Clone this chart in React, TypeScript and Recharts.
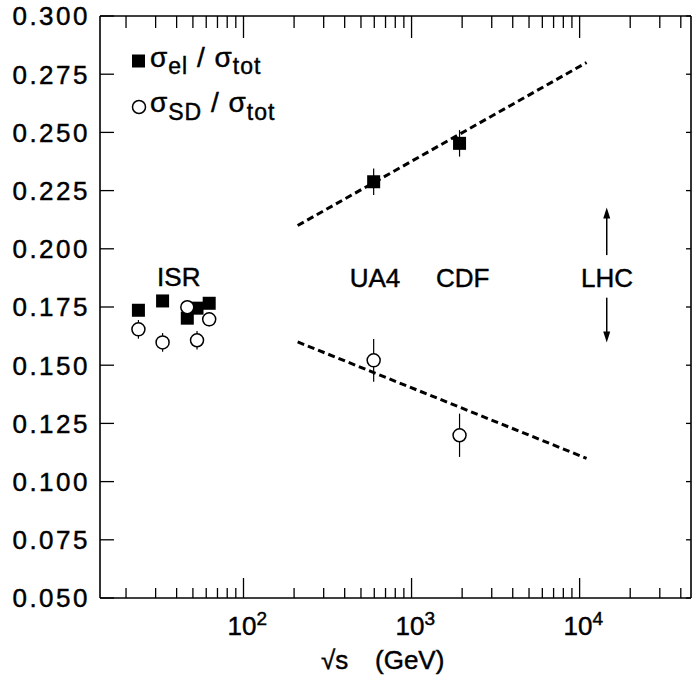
import React from 'react';
import {
  ScatterChart,
  Scatter,
  XAxis,
  YAxis,
  ErrorBar,
  ReferenceDot,
  ReferenceLine,
  Customized,
} from 'recharts';

const FONT = "'Liberation Sans', Arial, Helvetica, sans-serif";
const TEXT_STROKE = 0.45;

// ---- data ----
const isrEnergies = [23.7, 33.0, 46.3, 52.9, 62.5];
const isrElastic = [0.1736, 0.1776, 0.1702, 0.1745, 0.1766];
const isrElasticErr = [0.002, 0.002, 0.002, 0.002, 0.002];
const isrSD = [0.1654, 0.1598, 0.1749, 0.1607, 0.1697];
const isrSDErr = [0.004, 0.004, 0.003, 0.004, 0.003];

const colliderEnergies = [595, 1930];
const colliderElastic = [0.2288, 0.2453];
const colliderElasticErr = [0.0057, 0.0057];
const colliderSD = [0.1521, 0.1199];
const colliderSDErr = [0.0092, 0.0093];

const fitEnergies = [210, 11000];
const fitElastic = [0.21, 0.28];
const fitSD = [0.16, 0.11];

const xDomain = [14, 46000];
const yDomain = [0.05, 0.3];
const yTicks = [0.05, 0.075, 0.1, 0.125, 0.15, 0.175, 0.2, 0.225, 0.25, 0.275, 0.3];
const xMajorTicks = [100, 1000, 10000];
const xMajorExp = ['2', '3', '4'];
const xMinorTicks = [
  20, 30, 40, 50, 60, 70, 80, 90,
  200, 300, 400, 500, 600, 700, 800, 900,
  2000, 3000, 4000, 5000, 6000, 7000, 8000, 9000,
  20000, 30000, 40000,
];
const xAllTicks = [...xMinorTicks, ...xMajorTicks].sort((a, b) => a - b);

const annotations = [
  { label: 'ISR', x: 41.2, y: 0.188 },
  { label: 'UA4', x: 606, y: 0.1875 },
  { label: 'CDF', x: 2015, y: 0.1875 },
  { label: 'LHC', x: 14550, y: 0.1875 },
];
const lhcEnergy = 14500;
const lhcUpArrow = [0.1973, 0.2177];
const lhcDownArrow = [0.179, 0.1597];

// ---- derived tables ----
const elasticData = [
  ...isrEnergies.map((e, i) => ({ x: e, y: isrElastic[i], err: isrElasticErr[i] })),
  ...colliderEnergies.map((e, i) => ({ x: e, y: colliderElastic[i], err: colliderElasticErr[i] })),
];
const sdData = [
  ...isrEnergies.map((e, i) => ({ x: e, y: isrSD[i], err: isrSDErr[i] })),
  ...colliderEnergies.map((e, i) => ({ x: e, y: colliderSD[i], err: colliderSDErr[i] })),
];
const fitElasticData = fitEnergies.map((e, i) => ({ x: e, y: fitElastic[i] }));
const fitSDData = fitEnergies.map((e, i) => ({ x: e, y: fitSD[i] }));

// ---- shapes ----
const SquareShape = (p: any) => (
  <rect x={p.cx - 6.5} y={p.cy - 6.5} width={13} height={13} fill="#000" />
);
const CircleShape = (p: any) => (
  <circle cx={p.cx} cy={p.cy} r={6.5} fill="#fff" stroke="#000" strokeWidth={1.5} />
);
const NoShape = () => <g />;

const BottomTick = (p: any) => {
  const { x, y, payload } = p;
  const idx = xMajorTicks.indexOf(payload.value);
  const major = idx >= 0;
  return (
    <g>
      <line x1={x} x2={x} y1={y} y2={y - (major ? 20 : 10)} stroke="#000" strokeWidth={1.3} />
      {major && (
        <text
          x={x - 16}
          y={y + 37}
          fontFamily={FONT}
          fontSize={26}
          fill="#000"
          stroke="#000"
          strokeWidth={TEXT_STROKE}
        >
          10
          <tspan fontSize={19} dy={-10}>{xMajorExp[idx]}</tspan>
        </text>
      )}
    </g>
  );
};

const TopTick = (p: any) => {
  const { x, y, payload } = p;
  const major = xMajorTicks.indexOf(payload.value) >= 0;
  return <line x1={x} x2={x} y1={y} y2={y + (major ? 22 : 12)} stroke="#000" strokeWidth={1.3} />;
};

const LeftTick = (p: any) => {
  const { x, y, payload } = p;
  return (
    <g>
      <line x1={x} x2={x + 14} y1={y} y2={y} stroke="#000" strokeWidth={1.3} />
      <text
        x={x - 10}
        y={y}
        dy="0.36em"
        textAnchor="end"
        fontFamily={FONT}
        fontSize={26}
        letterSpacing={2.5}
        fill="#000"
        stroke="#000"
        strokeWidth={TEXT_STROKE}
      >
        {payload.value.toFixed(3)}
      </text>
    </g>
  );
};

const RightTick = (p: any) => {
  const { x, y } = p;
  return <line x1={x} x2={x - 5} y1={y} y2={y} stroke="#000" strokeWidth={1.3} />;
};

const ArrowShape = (p: any) => {
  const { x1, y1, x2, y2 } = p;
  const dir = y2 < y1 ? -1 : 1;
  return (
    <g>
      <line x1={x1} y1={y1} x2={x2} y2={y2 - dir * 6} stroke="#000" strokeWidth={1.5} />
      <polygon
        points={`${x2},${y2} ${x2 - 3.5},${y2 - dir * 11} ${x2 + 3.5},${y2 - dir * 11}`}
        fill="#000"
      />
    </g>
  );
};

const makeLabelShape = (label: string) => (p: any) => (
  <text
    x={p.cx}
    y={p.cy}
    dy="0.36em"
    textAnchor="middle"
    fontFamily={FONT}
    fontSize={26}
    fill="#000"
    stroke="#000"
    strokeWidth={TEXT_STROKE}
  >
    {label}
  </text>
);

const Decorations = () => (
  <g fontFamily={FONT} fill="#000">
    <rect x={132} y={54.5} width={13} height={13} fill="#000" />
    <text x={150} y={67} fontSize={28} letterSpacing={1} stroke="#000" strokeWidth={TEXT_STROKE}>
      σ
      <tspan fontSize={23} dy={7}>el</tspan>
      <tspan fontSize={28} dy={-7}> / σ</tspan>
      <tspan fontSize={23} dy={7}>tot</tspan>
    </text>
    <circle cx={139} cy={107} r={6.5} fill="#fff" stroke="#000" strokeWidth={1.5} />
    <text x={150} y={112} fontSize={28} letterSpacing={1} stroke="#000" strokeWidth={TEXT_STROKE}>
      σ
      <tspan fontSize={23} dy={8}>SD</tspan>
      <tspan fontSize={28} dy={-8}> / σ</tspan>
      <tspan fontSize={23} dy={8}>tot</tspan>
    </text>
    <text y={669} fontSize={26} stroke="#000" strokeWidth={TEXT_STROKE}>
      <tspan x={321}>√s</tspan>
      <tspan x={375}>(GeV)</tspan>
    </text>
  </g>
);

export default function App() {
  return (
    <div style={{ position: 'absolute', left: 0, top: 0, width: 692, height: 676, background: '#fff' }}>
      <ScatterChart width={692} height={676} margin={{ top: 15, right: 0, bottom: 0, left: 0 }}>
        <XAxis
          dataKey="x"
          type="number"
          scale="log"
          domain={xDomain}
          allowDataOverflow
          ticks={xAllTicks}
          interval={0}
          height={78}
          tickSize={0}
          tickMargin={0}
          tick={BottomTick}
          axisLine={{ stroke: '#000', strokeWidth: 1.6 }}
          tickLine={false}
        />
        <XAxis
          xAxisId="top"
          orientation="top"
          dataKey="x"
          type="number"
          scale="log"
          domain={xDomain}
          allowDataOverflow
          ticks={xAllTicks}
          interval={0}
          height={1}
          tickSize={0}
          tickMargin={0}
          tick={TopTick}
          axisLine={{ stroke: '#000', strokeWidth: 1.6 }}
          tickLine={false}
        />
        <YAxis
          dataKey="y"
          type="number"
          domain={yDomain}
          allowDataOverflow
          ticks={yTicks}
          interval={0}
          width={100}
          tickSize={0}
          tickMargin={0}
          tick={LeftTick}
          axisLine={{ stroke: '#000', strokeWidth: 1.6 }}
          tickLine={false}
        />
        <YAxis
          yAxisId="right"
          orientation="right"
          type="number"
          domain={yDomain}
          allowDataOverflow
          ticks={yTicks}
          interval={0}
          width={1}
          tickSize={0}
          tickMargin={0}
          tick={RightTick}
          axisLine={{ stroke: '#000', strokeWidth: 1.6 }}
          tickLine={false}
        />
        <Scatter
          data={fitElasticData}
          line={{ stroke: '#000', strokeWidth: 3, strokeDasharray: '7 4' }}
          shape={NoShape}
          isAnimationActive={false}
          legendType="none"
        />
        <Scatter
          data={fitSDData}
          line={{ stroke: '#000', strokeWidth: 3, strokeDasharray: '7 4' }}
          shape={NoShape}
          isAnimationActive={false}
          legendType="none"
        />
        <Scatter data={elasticData} shape={SquareShape} isAnimationActive={false}>
          <ErrorBar dataKey="err" direction="y" width={0} stroke="#000" strokeWidth={1.2} />
        </Scatter>
        <Scatter data={sdData} shape={CircleShape} isAnimationActive={false}>
          <ErrorBar dataKey="err" direction="y" width={0} stroke="#000" strokeWidth={1.2} />
        </Scatter>
        {annotations.map((a) => (
          <ReferenceDot key={a.label} x={a.x} y={a.y} r={0} shape={makeLabelShape(a.label)} />
        ))}
        <ReferenceLine
          segment={[
            { x: lhcEnergy, y: lhcUpArrow[0] },
            { x: lhcEnergy, y: lhcUpArrow[1] },
          ]}
          shape={ArrowShape}
        />
        <ReferenceLine
          segment={[
            { x: lhcEnergy, y: lhcDownArrow[0] },
            { x: lhcEnergy, y: lhcDownArrow[1] },
          ]}
          shape={ArrowShape}
        />
        <Customized component={Decorations} />
      </ScatterChart>
    </div>
  );
}
